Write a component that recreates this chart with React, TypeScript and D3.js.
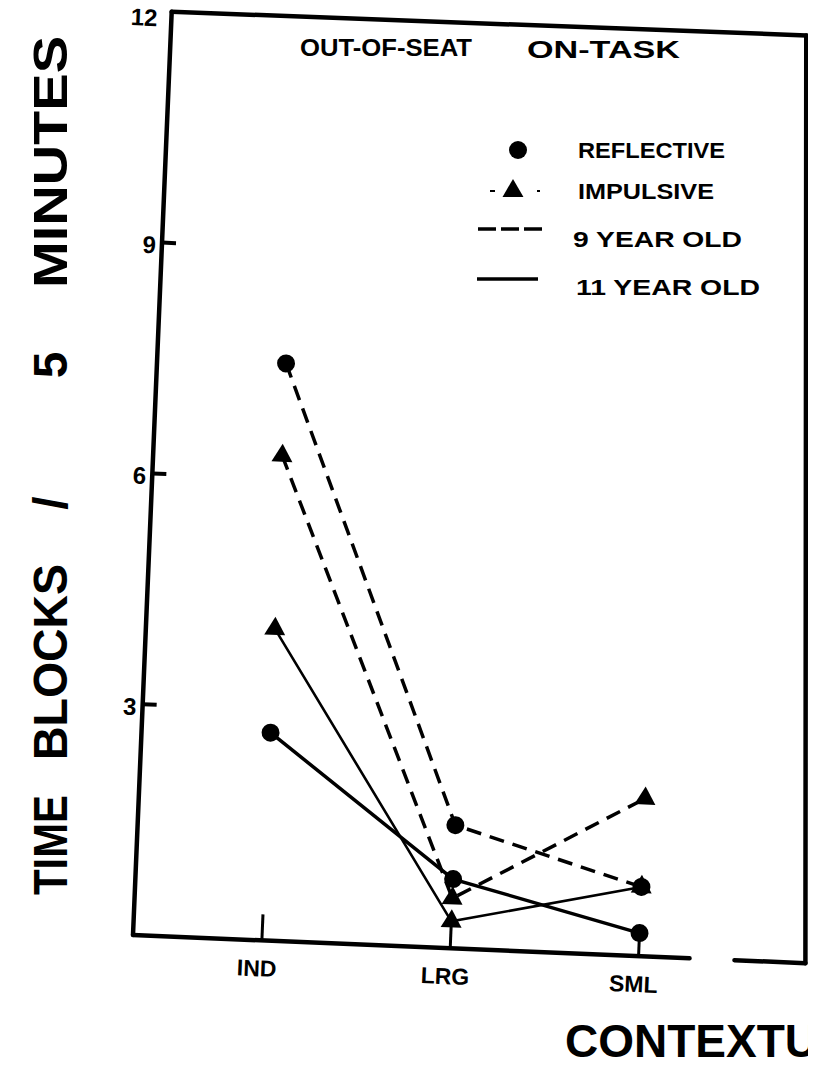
import React from 'react'
import * as d3 from 'd3'

const categories = ['IND', 'LRG', 'SML']
const reflective9 = [7.5, 1.6, 0.9]
const impulsive9 = [6.3, 0.65, 2.05]
const reflective11 = [2.7, 0.9, 0.3]
const impulsive11 = [4.05, 0.35, 0.9]
const yTicks = [3, 6, 9, 12]
const legendItems = ['REFLECTIVE', 'IMPULSIVE', '9 YEAR OLD', '11 YEAR OLD']
const yTitleWords = ['TIME', 'BLOCKS', '/', '5', 'MINUTES']

const WIDTH = 816
const HEIGHT = 1071
const ORIGIN = { x: 133, y: 935 }
const TILT = 2.4 // the scanned frame leans a little
const PLOT_W = 673
const PLOT_H = 924
const TOP_INSET = 38
const FONT = "'Liberation Sans', Arial, sans-serif"

const series = [
  { values: reflective9, marker: 'circle', dashed: true, width: 3.5 },
  { values: impulsive9, marker: 'triangle', dashed: true, width: 3.5 },
  { values: reflective11, marker: 'circle', dashed: false, width: 3.5 },
  { values: impulsive11, marker: 'triangle', dashed: false, width: 2.6 },
]

const x = d3.scalePoint().domain(categories).range([129, 506])
const y = d3.scaleLinear().domain([0, 12]).range([0, -PLOT_H])
const triangle = d3.symbol().type(d3.symbolTriangle).size(190)

function Marker({ type, cx, cy }) {
  if (type === 'circle') return <circle cx={cx} cy={cy} r={9} fill="#000" />
  return <path d={triangle()} transform={`translate(${cx},${cy})`} fill="#000" />
}

export default function App() {
  const line = d3
    .line()
    .x((d, i) => x(categories[i]))
    .y(d => y(d))

  const legendY = [150, 191, 239, 287]
  const legendLen = [147, 136, 169, 184]
  const titleY = [845, 662, 503, 365, 162]
  const titleLen = [100, 196, 30, 30, 252]

  return (
    <svg width={WIDTH} height={HEIGHT} style={{ display: 'block', margin: -8 }}>
      <rect width={WIDTH} height={HEIGHT} fill="#fff" />

      {/* y axis title */}
      {yTitleWords.map((w, i) => (
        <text
          key={w}
          transform={`translate(67,${titleY[i]}) rotate(-90)`}
          textAnchor="middle"
          fontFamily={FONT}
          fontWeight="bold"
          fontSize={48}
          textLength={w.length > 1 ? titleLen[i] : null}
          lengthAdjust="spacingAndGlyphs"
        >
          {w}
        </text>
      ))}

      <g transform={`translate(${ORIGIN.x},${ORIGIN.y}) rotate(${TILT})`}>
        {/* frame */}
        <g stroke="#000" strokeWidth={4.5} fill="none" strokeLinecap="round">
          <line x1={0} y1={0} x2={0} y2={-PLOT_H} />
          <line x1={0} y1={-PLOT_H} x2={PLOT_W - TOP_INSET} y2={-PLOT_H - 3} />
          <line x1={PLOT_W - TOP_INSET} y1={-PLOT_H - 3} x2={PLOT_W} y2={0} />
          <line x1={0} y1={0} x2={557} y2={0} />
          <line x1={602} y1={0} x2={PLOT_W} y2={0} />
        </g>

        {/* y ticks */}
        {yTicks.map(t => (
          <g key={t} transform={`translate(0,${y(t)})`}>
            {t < 12 && <line x1={0} x2={14} stroke="#000" strokeWidth={4} />}
            <text
              x={t === 12 ? -14 : -6}
              dy={t === 12 ? 15 : 11}
              textAnchor="end"
              fontFamily={FONT}
              fontWeight="bold"
              fontSize={24}
            >
              {t}
            </text>
          </g>
        ))}

        {/* x ticks */}
        {categories.map(c => (
          <g key={c} transform={`translate(${x(c)},0)`}>
            <line y1={0} y2={-26} stroke="#000" strokeWidth={3} />
            <text
              y={36}
              x={-4}
              textAnchor="middle"
              fontFamily={FONT}
              fontWeight="bold"
              fontSize={23}
            >
              {c}
            </text>
          </g>
        ))}

        {/* lines */}
        {series.map((s, i) => (
          <path
            key={i}
            d={line(s.values)}
            fill="none"
            stroke="#000"
            strokeWidth={s.width}
            strokeDasharray={s.dashed ? '15 9' : null}
          />
        ))}

        {/* markers */}
        {series.map((s, i) =>
          s.values.map((v, j) => (
            <Marker key={`${i}-${j}`} type={s.marker} cx={x(categories[j])} cy={y(v)} />
          ))
        )}
      </g>

      {/* title */}
      <text x={300} y={56} fontFamily={FONT} fontWeight="bold" fontSize={24} textLength={172} lengthAdjust="spacingAndGlyphs">
        OUT-OF-SEAT
      </text>
      <text x={527} y={58} fontFamily={FONT} fontWeight="bold" fontSize={24} textLength={153} lengthAdjust="spacingAndGlyphs">
        ON-TASK
      </text>

      {/* legend */}
      <circle cx={518} cy={legendY[0]} r={9} fill="#000" />
      <line x1={490} x2={540} y1={legendY[1]} y2={legendY[1]} stroke="#000" strokeWidth={2} strokeDasharray="5 42" />
      <path d={triangle()} transform={`translate(513,${legendY[1]})`} fill="#000" />
      <line x1={478} x2={542} y1={legendY[2] - 10} y2={legendY[2] - 10} stroke="#000" strokeWidth={3.5} strokeDasharray="18 5" />
      <line x1={477} x2={538} y1={legendY[3] - 8} y2={legendY[3] - 8} stroke="#000" strokeWidth={3.5} />
      {legendItems.map((t, i) => (
        <text
          key={t}
          x={i === 3 ? 576 : i === 2 ? 573 : 578}
          y={legendY[i] + 8}
          fontFamily={FONT}
          fontWeight="bold"
          fontSize={22}
          textLength={legendLen[i]}
          lengthAdjust="spacingAndGlyphs"
        >
          {t}
        </text>
      ))}

      {/* x axis title, cut by the page edge as in the scan */}
      <text x={565} y={1057} fontFamily={FONT} fontWeight="bold" fontSize={46}>
        CONTEXTUAL SETTING
      </text>
    </svg>
  )
}
